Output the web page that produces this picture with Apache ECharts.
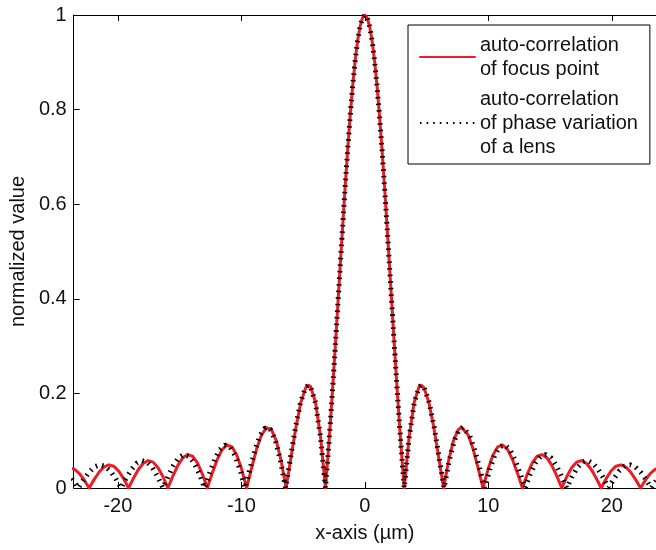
<!DOCTYPE html>
<html>
<head>
<meta charset="utf-8">
<script src="https://cdn.jsdelivr.net/npm/echarts@6/dist/echarts.min.js"></script>
<style>
html,body{margin:0;padding:0;background:#fff;}
#chart{width:656px;height:550px;}
</style>
</head>
<body>
<div id="chart"></div>
<script>
// ---- data ----
const xTicks = [-20, -10, 0, 10, 20];
const yTicks = [0, 0.2, 0.4, 0.6, 0.8, 1];

const redName = 'auto-correlation\nof focus point';
const blackName = 'auto-correlation\nof phase variation\nof a lens';

const redX = [-23.925,-23.526,-23.128,-22.729,-22.33,-21.931,-21.533,-21.134,-20.735,-20.336,-19.938,-19.539,-19.14,
  -18.741,-18.343,-17.944,-17.545,-17.146,-16.748,-16.349,-15.95,-15.551,-15.153,-14.754,-14.355,-13.956,-13.558,-13.159,-12.76,
  -12.361,-11.963,-11.564,-11.165,-10.766,-10.368,-9.969,-9.57,-9.171,-8.773,-8.374,-7.975,-7.844,-7.576,-7.178,-6.779,-6.38,
  -5.981,-5.583,-5.184,-4.785,-4.56,-4.386,-3.988,-3.589,-3.19,-2.991,-2.791,-2.592,-2.393,-2.193,-1.994,-1.794,-1.595,-1.396,
  -1.196,-0.997,-0.798,-0.598,-0.399,-0.199,0,
  0.199,0.399,0.598,0.798,0.997,1.196,1.396,1.595,1.794,1.994,2.193,2.393,2.592,2.791,2.991,3.19,
  3.589,3.988,4.386,4.56,4.785,5.184,5.583,5.981,6.38,6.779,7.178,7.576,7.844,7.975,8.374,8.773,9.171,9.57,
  9.969,10.368,10.766,11.165,11.564,11.963,12.361,12.76,13.159,13.558,13.956,14.355,14.754,15.153,15.551,15.95,
  16.349,16.748,17.146,17.545,17.944,18.343,18.741,19.14,19.539,19.938,20.336,20.735,21.134,21.533,21.931,22.33,
  22.729,23.128,23.526,23.925];
const redY = [0.0424,0.0399,0.0310,0.0171,0,0.0177,0.0333,0.0444,0.0490,0.0461,0.0360,0.0199,0,
  0.0207,0.0391,0.0523,0.0579,0.0547,0.0429,0.0238,0,0.0250,0.0474,0.0636,0.0707,0.0672,0.0530,0.0295,0,
  0.0314,0.0600,0.0811,0.0909,0.0871,0.0693,0.0390,0,0.0424,0.0818,0.1120,0.1273,0.1284,0.1238,0.1000,0.0573,0,
  0.0650,0.1286,0.1810,0.2122,0.2172,0.2139,0.1801,0.1083,0,0.0662,0.1392,0.2177,0.3001,0.3850,0.4705,0.5550,0.6366,0.7136,
  0.7842,0.8470,0.9003,0.9432,0.9745,0.9936,1,
  0.9936,0.9745,0.9432,0.9003,0.8470,0.7842,0.7136,0.6366,0.5550,0.4705,0.3850,0.3001,0.2177,0.1392,0.0662,0,
  0.1083,0.1801,0.2139,0.2172,0.2122,0.1810,0.1286,0.0650,0,0.0573,0.1000,0.1238,0.1284,0.1273,0.1120,0.0818,0.0424,0,
  0.0390,0.0693,0.0871,0.0909,0.0811,0.0600,0.0314,0,0.0295,0.0530,0.0672,0.0707,0.0636,0.0474,0.0250,0,
  0.0238,0.0429,0.0547,0.0579,0.0523,0.0391,0.0207,0,0.0199,0.0360,0.0461,0.0490,0.0444,0.0333,0.0177,0,
  0.0171,0.0310,0.0399,0.0424];

const blackX = [-24.07,-23.64,-23.20,-22.77,-22.34,-21.91,-21.48,-21.04,-20.61,-20.18,-19.75,
  -19.33,-18.90,-18.48,-18.05,-17.63,-17.20,-16.78,-16.35,-15.93,-15.51,-15.09,-14.67,-14.24,-13.82,-13.40,-12.98,
  -12.57,-12.16,-11.75,-11.34,-10.93,-10.52,-10.11,-9.70,-9.29,-8.88,-8.47,-8.06,-7.93,-7.65,-7.24,-6.83,-6.42,
  -6.016,-5.613,-5.209,-4.805,-4.58,-4.401,-3.998,-3.594,-3.19,-2.991,-2.791,-2.592,-2.393,-2.193,-1.994,-1.794,-1.595,-1.396,
  -1.196,-0.997,-0.798,-0.598,-0.399,-0.199,0,
  0.199,0.399,0.598,0.798,0.997,1.196,1.396,1.595,1.794,1.994,2.193,2.393,2.592,2.791,2.991,3.19,
  3.594,3.998,4.401,4.58,4.805,5.209,5.613,6.016,6.42,6.83,7.24,7.65,7.93,8.06,8.47,8.88,9.29,9.70,
  10.11,10.52,10.93,11.34,11.75,12.16,12.57,12.98,13.40,13.82,14.24,14.67,15.09,15.51,15.93,16.35,
  16.78,17.20,17.63,18.05,18.48,18.90,19.33,19.75,20.18,20.61,21.04,21.48,21.91,22.34,22.77,23.20,
  23.64,24.07];
const blackY = [0.0310,0.0171,0,0.0177,0.0333,0.0444,0.0490,0.0461,0.0360,0.0199,0,
  0.0207,0.0391,0.0523,0.0579,0.0547,0.0429,0.0238,0,0.0250,0.0474,0.0636,0.0707,0.0672,0.0530,0.0295,0,
  0.0314,0.0600,0.0811,0.0909,0.0871,0.0693,0.0390,0,0.0424,0.0818,0.1120,0.1273,0.1284,0.1238,0.1000,0.0573,0,
  0.0650,0.1286,0.1810,0.2122,0.2172,0.2139,0.1801,0.1083,0,0.0662,0.1392,0.2177,0.3001,0.3850,0.4705,0.5550,0.6366,0.7136,
  0.7842,0.8470,0.9003,0.9432,0.9745,0.9936,1,
  0.9936,0.9745,0.9432,0.9003,0.8470,0.7842,0.7136,0.6366,0.5550,0.4705,0.3850,0.3001,0.2177,0.1392,0.0662,0,
  0.1083,0.1801,0.2139,0.2172,0.2122,0.1810,0.1286,0.0650,0,0.0573,0.1000,0.1238,0.1284,0.1273,0.1120,0.0818,0.0424,0,
  0.0390,0.0693,0.0871,0.0909,0.0811,0.0600,0.0314,0,0.0295,0.0530,0.0672,0.0707,0.0636,0.0474,0.0250,0,
  0.0238,0.0429,0.0547,0.0579,0.0523,0.0391,0.0207,0,0.0199,0.0360,0.0461,0.0490,0.0444,0.0333,0.0177,0,
  0.0171,0.0310];

// ---- chart ----
const FONT = "'Liberation Sans', Arial, Helvetica, sans-serif";
const TXT = '#111';
const chart = echarts.init(document.getElementById('chart'), null, {renderer: 'canvas'});

const redData = redX.map((x, i) => [x, redY[i]]);
const blackData = blackX.map((x, i) => [x, blackY[i]]);

const axisLineStyle = {color: '#000', width: 1};

chart.setOption({
  animation: false,
  backgroundColor: '#fff',
  textStyle: {fontFamily: FONT},
  grid: {left: 72, top: 15, width: 589.4, height: 473, containLabel: false},
  xAxis: [{
    type: 'value', min: -23.58, max: 23.58, position: 'bottom',
    axisLine: {show: true, onZero: false, lineStyle: axisLineStyle},
    axisTick: {show: true, inside: true, length: 6, customValues: xTicks, lineStyle: axisLineStyle},
    axisLabel: {show: true, customValues: xTicks, fontSize: 20, margin: 8, color: TXT, fontFamily: FONT},
    splitLine: {show: false},
    name: 'x-axis (µm)', nameLocation: 'middle', nameGap: 35,
    nameTextStyle: {fontSize: 20, color: TXT, fontFamily: FONT}
  }, {
    type: 'value', min: -23.58, max: 23.58, position: 'top',
    axisLine: {show: true, onZero: false, lineStyle: axisLineStyle},
    axisTick: {show: true, inside: true, length: 6, customValues: xTicks, lineStyle: axisLineStyle},
    axisLabel: {show: false},
    splitLine: {show: false}
  }],
  yAxis: [{
    type: 'value', min: 0, max: 1, interval: 0.2, position: 'left',
    axisLine: {show: true, onZero: false, lineStyle: axisLineStyle},
    axisTick: {show: true, inside: true, length: 6, lineStyle: axisLineStyle},
    axisLabel: {show: true, fontSize: 20, margin: 7, color: TXT, fontFamily: FONT,
      formatter: v => { const i = yTicks.findIndex(t => Math.abs(t - v) < 1e-9); return i >= 0 ? String(yTicks[i]) : ''; }},
    splitLine: {show: false},
    name: 'normalized value', nameLocation: 'middle', nameGap: 44, nameRotate: 90,
    nameTextStyle: {fontSize: 20, color: TXT, fontFamily: FONT}
  }],
  legend: {
    orient: 'vertical', left: 408, top: 25,
    padding: [8, 12, 5, 11], itemGap: 6, itemWidth: 55, itemHeight: 14,
    backgroundColor: '#fff', borderColor: '#000', borderWidth: 1, borderRadius: 0,
    itemStyle: {opacity: 0},
    textStyle: {fontSize: 20, lineHeight: 24, color: TXT, fontFamily: FONT},
    data: [redName, blackName]
  },
  series: [{
    name: redName, type: 'line', xAxisIndex: 0, yAxisIndex: 0,
    data: redData, symbol: 'none', smooth: false, clip: true,
    lineStyle: {color: '#ee1c25', width: 3, cap: 'round', join: 'round'},
    itemStyle: {color: '#ee1c25'}
  }, {
    name: blackName, type: 'line', xAxisIndex: 0, yAxisIndex: 0,
    data: blackData, symbol: 'none', smooth: false, clip: true,
    lineStyle: {color: '#000', width: 5, type: [1.6, 5], cap: 'butt'},
    itemStyle: {color: '#000'}
  }]
});
</script>
</body>
</html>
